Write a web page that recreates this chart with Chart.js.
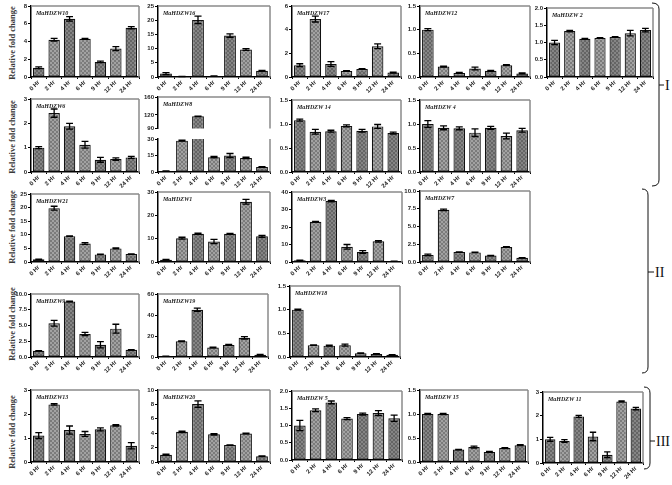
<!DOCTYPE html>
<html>
<head>
<meta charset="utf-8">
<script src="https://cdn.jsdelivr.net/npm/chart.js@4.4.0/dist/chart.umd.min.js"></script>
<style>
body { margin: 0; background: #fff; width: 672px; height: 485px; position: relative; overflow: hidden; }
.p { position: absolute; }
.yt { position: absolute; font: bold 8.5px "Liberation Serif", serif; color: #3a3a3a; white-space: nowrap;
      transform: translate(-50%, -50%) rotate(-90deg); }
svg { position: absolute; left: 0; top: 0; }
</style>
</head>
<body>
<div class="yt" style="left:12px;top:43px">Relative fold change</div>
<div class="yt" style="left:12px;top:137px">Relative fold change</div>
<div class="yt" style="left:12px;top:227px">Relative fold change</div>
<div class="yt" style="left:12px;top:324px">Relative fold change</div>
<div class="yt" style="left:12px;top:432px">Relative fold change</div>
<svg width="672" height="485">
  <g fill="none" stroke="#111" stroke-width="1">
    <path d="M652,3 Q659,3 659,9 L659,180 Q659,186 652,186 M659,85 L664,85"/>
    <path d="M642,189 Q648,189 648,195 L648,367 Q648,373 642,373 M648,272 L654,272"/>
    <path d="M644,387 Q650,387 650,393 L650,463 Q650,469 644,469 M650,441 L655,441"/>
  </g>
  <g font-family="Liberation Serif, serif" font-size="14" fill="#111">
    <text x="665" y="90">I</text>
    <text x="655" y="277">II</text>
    <text x="656" y="446">III</text>
  </g>
</svg>
<script>
var hours = ['0 Hr', '2 Hr', '4 Hr', '6 Hr', '9 Hr', '12 Hr', '24 Hr'];

// relative fold change (mean) and error per gene
var hdzw10 = [1.05, 4.2, 6.55, 4.3, 1.7, 3.2, 5.55];
var hdzw10Err = [0.1, 0.15, 0.25, 0.05, 0.08, 0.22, 0.12];
var hdzw16 = [1.2, 0.15, 20.1, 0.3, 14.6, 9.7, 2.2];
var hdzw16Err = [0.35, 0.05, 1.3, 0.1, 0.6, 0.3, 0.1];
var hdzw17 = [1.0, 4.9, 1.1, 0.5, 0.67, 2.6, 0.37];
var hdzw17Err = [0.12, 0.25, 0.2, 0.03, 0.03, 0.2, 0.03];
var hdzw12 = [1.0, 0.22, 0.085, 0.18, 0.13, 0.25, 0.075];
var hdzw12Err = [0.02, 0.01, 0.01, 0.03, 0.01, 0.01, 0.01];
var hdzw2 = [1.0, 1.33, 1.11, 1.13, 1.16, 1.27, 1.36];
var hdzw2Err = [0.06, 0.02, 0.01, 0.01, 0.01, 0.08, 0.05];
var hdzw6 = [1.0, 2.42, 1.88, 1.12, 0.5, 0.53, 0.6];
var hdzw6Err = [0.04, 0.17, 0.12, 0.14, 0.1, 0.05, 0.04];
var hdzw8 = [0.8, 28.5, 117, 13.5, 15, 12.8, 4.5];
var hdzw8Err = [0.1, 0.5, 0.5, 0.6, 1.8, 0.6, 0.3];
var hdzw14 = [1.08, 0.84, 0.85, 0.96, 0.86, 0.95, 0.81];
var hdzw14Err = [0.02, 0.05, 0.02, 0.02, 0.03, 0.04, 0.02];
var hdzw4 = [1.0, 0.92, 0.91, 0.82, 0.92, 0.75, 0.87];
var hdzw4Err = [0.07, 0.04, 0.03, 0.08, 0.03, 0.06, 0.04];
var hdzw21 = [1.0, 19.8, 9.5, 6.8, 2.8, 5.0, 2.9];
var hdzw21Err = [0.05, 0.7, 0.1, 0.3, 0.05, 0.2, 0.05];
var hdzw1 = [1.0, 10.2, 12.1, 8.8, 12.1, 25.8, 11.0];
var hdzw1Err = [0.1, 0.4, 0.3, 0.9, 0.2, 1.0, 0.4];
var hdzw3 = [1.0, 23.0, 34.8, 8.7, 5.7, 11.8, 0.4];
var hdzw3Err = [0.05, 0.2, 0.4, 1.3, 0.8, 0.4, 0.05];
var hdzw7 = [1.0, 7.35, 1.4, 1.35, 0.9, 2.1, 0.6];
var hdzw7Err = [0.1, 0.1, 0.03, 0.03, 0.03, 0.05, 0.03];
var hdzw9 = [1.0, 5.35, 8.8, 3.65, 1.95, 4.5, 1.15];
var hdzw9Err = [0.02, 0.45, 0.05, 0.25, 0.5, 0.7, 0.03];
var hdzw19 = [0.8, 15.0, 45.0, 9.0, 11.5, 18.3, 2.2];
var hdzw19Err = [0.1, 0.3, 1.5, 0.4, 0.5, 1.2, 0.3];
var hdzw18 = [1.0, 0.25, 0.24, 0.25, 0.08, 0.065, 0.045];
var hdzw18Err = [0.01, 0.005, 0.01, 0.02, 0.005, 0.005, 0.005];
var hdzw13 = [1.1, 2.4, 1.33, 1.17, 1.36, 1.53, 0.68];
var hdzw13Err = [0.12, 0.03, 0.17, 0.1, 0.06, 0.03, 0.13];
var hdzw20 = [1.0, 4.2, 8.05, 3.85, 2.35, 3.95, 0.8];
var hdzw20Err = [0.08, 0.1, 0.45, 0.1, 0.03, 0.05, 0.05];
var hdzw5 = [1.0, 1.44, 1.67, 1.2, 1.33, 1.36, 1.21];
var hdzw5Err = [0.15, 0.04, 0.04, 0.03, 0.03, 0.07, 0.09];
var hdzw15 = [1.0, 1.0, 0.26, 0.31, 0.21, 0.29, 0.35];
var hdzw15Err = [0.01, 0.01, 0.005, 0.02, 0.01, 0.01, 0.01];
var hdzw11 = [1.0, 0.93, 1.97, 1.12, 0.35, 2.6, 2.3];
var hdzw11Err = [0.08, 0.06, 0.04, 0.18, 0.12, 0.02, 0.05];

// y tick labels
var ticks8 = ['0', '2', '4', '6', '8'];
var ticks25 = ['0', '5', '10', '15', '20', '25'];
var ticks6 = ['0', '2', '4', '6'];
var ticks15 = ['0.0', '0.5', '1.0', '1.5'];
var ticks20 = ['0.0', '0.5', '1.0', '1.5', '2.0'];
var ticks3 = ['0', '1', '2', '3'];
var ticks8Top = ['90', '120', '160'];
var ticks8Bottom = ['0', '15', '30'];
var ticks30 = ['0', '10', '20', '30'];
var ticks40 = ['0', '10', '20', '30', '40'];
var ticks10 = ['0.0', '2.5', '5.0', '7.5', '10.0'];
var ticks60 = ['0', '20', '40', '60'];
var ticks10b = ['0', '2', '4', '6', '8', '10'];

Chart.defaults.font.family = '"Liberation Sans", Arial, sans-serif';

function hatch(base) {
    var c = document.createElement('canvas');
    c.width = 4; c.height = 4;
    var g = c.getContext('2d');
    g.fillStyle = base;
    g.fillRect(0, 0, 4, 4);
    g.strokeStyle = 'rgba(0,0,0,0.3)';
    g.lineWidth = 0.8;
    g.beginPath();
    g.moveTo(0, 4); g.lineTo(4, 0);
    g.moveTo(0, 0); g.lineTo(4, 4);
    g.stroke();
    return g.createPattern(c, 'repeat');
}
var darkFill = hatch('#858585');
var lightFill = hatch('#a2a2a2');

var framePlugin = {
    id: 'frame',
    afterDraw: function (chart, args, o) {
        var a = chart.chartArea, g = chart.ctx;
        g.save();
        g.strokeStyle = '#8a8a8a';
        g.lineWidth = 1.5;
        g.beginPath();
        if (o.top) { g.moveTo(a.left, a.top); g.lineTo(a.right, a.top); }
        g.moveTo(a.right, a.top); g.lineTo(a.right, a.bottom);
        g.stroke();
        if (o.name) {
            g.fillStyle = '#222';
            g.font = 'italic bold 6px "Liberation Serif", serif';
            g.textBaseline = 'top';
            g.fillText(o.name, a.left + 5, a.top + 4);
        }
        g.restore();
    }
};

var errorPlugin = {
    id: 'errorBars',
    afterDatasetsDraw: function (chart, args, o) {
        var meta = chart.getDatasetMeta(0), y = chart.scales.y, g = chart.ctx;
        var vals = chart.data.datasets[0].data;
        g.save();
        g.strokeStyle = '#000';
        g.lineWidth = 1.3;
        meta.data.forEach(function (bar, i) {
            var v = vals[i], e = o.err[i];
            if (v == null || v > y.max || v < y.min) return;
            var t = y.getPixelForValue(v + e), b = y.getPixelForValue(v - e);
            var w = bar.width * 0.3;
            g.beginPath();
            g.moveTo(bar.x, t); g.lineTo(bar.x, b);
            g.moveTo(bar.x - w, t); g.lineTo(bar.x + w, t);
            g.moveTo(bar.x - w, b); g.lineTo(bar.x + w, b);
            g.stroke();
        });
        g.restore();
    }
};

function panel(box, name, vals, errs, tickLabels, o) {
    o = o || {};
    var L = 24, T = 5, R = 5, B = o.noX ? 1 : 20;
    var d = document.createElement('div');
    d.className = 'p';
    d.style.left = (box[0] - L) + 'px';
    d.style.top = (box[1] - T) + 'px';
    d.style.width = (box[2] + L + R) + 'px';
    d.style.height = (box[3] + T + B) + 'px';
    var cv = document.createElement('canvas');
    d.appendChild(cv);
    document.body.appendChild(d);
    var tv = tickLabels.map(Number);

    new Chart(cv, {
        type: 'bar',
        data: {
            labels: hours,
            datasets: [{
                data: vals,
                backgroundColor: hours.map(function (h, i) { return i % 2 ? lightFill : darkFill; }),
                borderColor: '#111',
                borderWidth: 1.2,
                borderSkipped: false,
                barPercentage: 0.74,
                categoryPercentage: 1
            }]
        },
        plugins: [framePlugin, errorPlugin],
        options: {
            animation: false,
            responsive: true,
            maintainAspectRatio: false,
            layout: { padding: { top: T, right: R, left: 0, bottom: o.noX ? 1 : 0 } },
            plugins: {
                legend: { display: false },
                tooltip: { enabled: false },
                frame: { top: !o.noTop, name: name },
                errorBars: { err: errs }
            },
            scales: {
                x: {
                    display: !o.noX,
                    grid: { drawOnChartArea: false, tickLength: 2, color: '#000' },
                    border: { color: '#000', width: 1.5 },
                    ticks: {
                        minRotation: 45, maxRotation: 45, autoSkip: false, padding: 0,
                        font: { size: 6, weight: 'bold' }, color: '#222'
                    },
                    afterFit: function (s) { s.height = B; }
                },
                y: {
                    min: tv[0],
                    max: tv[tv.length - 1],
                    afterBuildTicks: function (s) { s.ticks = tv.map(function (v) { return { value: v }; }); },
                    grid: { drawOnChartArea: false, tickLength: 3, color: '#000' },
                    border: { color: '#000', width: 1.5 },
                    ticks: {
                        padding: 1,
                        font: { size: 6, weight: 'bold' }, color: '#222',
                        callback: function (v, i) { return tickLabels[i]; }
                    },
                    afterFit: function (s) { s.width = L; }
                }
            }
        }
    });
}

// row 1
panel([31, 6, 108, 71], 'MaHDZW10', hdzw10, hdzw10Err, ticks8);
panel([158, 6, 112, 71], 'MaHDZW16', hdzw16, hdzw16Err, ticks25);
panel([292, 6, 109, 71], 'MaHDZW17', hdzw17, hdzw17Err, ticks6);
panel([420, 6, 110, 71], 'MaHDZW12', hdzw12, hdzw12Err, ticks15);
panel([547, 8, 106, 69], 'MaHDZW 2', hdzw2, hdzw2Err, ticks20);
// row 2
panel([31, 99, 108, 73], 'MaHDZW6', hdzw6, hdzw6Err, ticks3);
panel([158, 97, 112, 35], 'MaHDZW8', hdzw8.map(function (v) { return v > 90 ? v : null; }), hdzw8Err, ticks8Top, { noX: true });
panel([158, 139, 112, 33], '', hdzw8, hdzw8Err, ticks8Bottom, { noTop: true });
panel([292, 100, 109, 72], 'MaHDZW 14', hdzw14, hdzw14Err, ticks15);
panel([420, 100, 110, 72], 'MaHDZW 4', hdzw4, hdzw4Err, ticks15);
// row 3
panel([31, 194, 108, 68], 'MaHDZW21', hdzw21, hdzw21Err, ticks25);
panel([158, 192, 112, 70], 'MaHDZW1', hdzw1, hdzw1Err, ticks30);
panel([292, 192, 110, 70], 'MaHDZW3', hdzw3, hdzw3Err, ticks40);
panel([420, 191, 110, 71], 'MaHDZW7', hdzw7, hdzw7Err, ticks10);
// row 4
panel([31, 294, 108, 63], 'MaHDZW9', hdzw9, hdzw9Err, ticks10);
panel([158, 294, 110, 63], 'MaHDZW19', hdzw19, hdzw19Err, ticks60);
panel([290, 286, 110, 71], 'MaHDZW18', hdzw18, hdzw18Err, ticks15);
// row 5
panel([31, 390, 108, 72], 'MaHDZW13', hdzw13, hdzw13Err, ticks3);
panel([158, 390, 112, 72], 'MaHDZW20', hdzw20, hdzw20Err, ticks10b);
panel([292, 391, 110, 69], 'MaHDZW 5', hdzw5, hdzw5Err, ticks20);
panel([420, 390, 108, 72], 'MaHDZW 15', hdzw15, hdzw15Err, ticks15);
panel([543, 392, 100, 71], 'MaHDZW 11', hdzw11, hdzw11Err, ticks3);
</script>
</body>
</html>
